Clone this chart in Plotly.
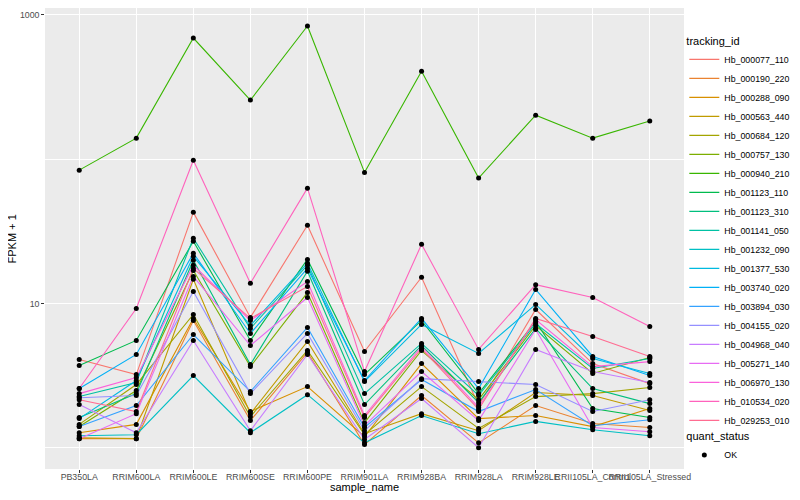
import plotly.graph_objects as go

samples = ["PB350LA", "RRIM600LA", "RRIM600LE", "RRIM600SE", "RRIM600PE", "RRIM901LA",
           "RRIM928BA", "RRIM928LA", "RRIM928LE", "RRII105LA_Control", "RRII105LA_Stressed"]

tracking_ids = ["Hb_000077_110", "Hb_000190_220", "Hb_000288_090", "Hb_000563_440", "Hb_000684_120",
                "Hb_000757_130", "Hb_000940_210", "Hb_001123_110", "Hb_001123_310", "Hb_001141_050",
                "Hb_001232_090", "Hb_001377_530", "Hb_003740_020", "Hb_003894_030", "Hb_004155_020",
                "Hb_004968_040", "Hb_005271_140", "Hb_006970_130", "Hb_010534_020", "Hb_029253_010"]

colors = ["#F8766D", "#EA8331", "#D89000", "#C09B00", "#A3A500", "#7CAE00", "#39B600", "#00BB4E",
          "#00BF7D", "#00C1A3", "#00BFC4", "#00BAE0", "#00B0F6", "#35A2FF", "#9590FF", "#C77CFF",
          "#E76BF3", "#FA62DB", "#FF62BC", "#FF6C91"]

# FPKM + 1 per sample (order of `samples`)
hb_000077_110 = [4.09, 3.21, 42.8, 8.00, 34.8, 4.64, 15.2, 1.96, 9.08, 3.83, 2.78]
hb_000190_220 = [1.155, 1.155, 7.62, 1.54, 4.57, 1.05, 2.30, 1.08, 1.96, 1.47, 1.38]
hb_000288_090 = [1.27, 1.45, 7.87, 1.78, 2.65, 1.19, 3.83, 1.59, 1.67, 1.40, 1.87]
hb_000563_440 = [1.17, 1.155, 14.7, 1.72, 5.45, 1.25, 1.72, 1.31, 2.41, 2.30, 1.81]
hb_000684_120 = [1.45, 2.74, 8.39, 1.64, 4.72, 1.23, 2.65, 1.36, 2.26, 2.37, 2.61]
hb_000757_130 = [1.40, 2.49, 16.9, 3.65, 11.9, 1.49, 4.72, 2.15, 7.03, 3.27, 4.22]
hb_000940_210 = [84.0, 140.0, 692.0, 257.0, 839.0, 81.0, 408.0, 74.0, 202.0, 140.0, 184.0]
hb_001123_110 = [3.71, 5.54, 27.0, 5.54, 20.2, 3.21, 7.62, 2.37, 7.50, 1.87, 1.62]
hb_001123_310 = [1.62, 2.37, 19.9, 3.77, 16.7, 1.99, 5.11, 2.05, 6.70, 2.57, 2.02]
hb_001141_050 = [2.26, 2.83, 28.3, 6.70, 18.4, 2.37, 5.28, 2.30, 7.26, 3.54, 4.15]
hb_001232_090 = [1.21, 1.23, 3.16, 1.27, 2.33, 1.08, 1.67, 1.25, 1.52, 1.33, 1.21]
hb_001377_530 = [1.59, 2.92, 21.2, 7.03, 19.0, 2.87, 7.15, 4.50, 9.84, 4.15, 3.27]
hb_003740_020 = [2.57, 4.43, 22.3, 6.19, 17.5, 2.92, 7.87, 2.57, 12.5, 4.29, 3.16]
hb_003894_030 = [1.40, 1.96, 6.09, 2.45, 6.81, 1.38, 2.97, 1.78, 2.53, 1.42, 1.56]
hb_004155_020 = [2.22, 2.30, 12.1, 2.37, 6.19, 1.31, 3.01, 2.87, 2.74, 1.78, 2.15]
hb_004968_040 = [1.99, 1.27, 5.54, 1.31, 4.43, 1.14, 2.19, 1.00, 4.80, 3.37, 2.83]
hb_005271_140 = [1.155, 1.72, 15.4, 5.11, 11.0, 1.42, 3.37, 1.54, 6.59, 1.38, 1.29]
hb_006970_130 = [2.37, 3.06, 18.4, 7.62, 14.2, 1.67, 5.03, 1.90, 7.74, 3.65, 3.95]
hb_010534_020 = [2.57, 9.23, 98.4, 13.8, 63.0, 3.37, 25.7, 4.80, 13.5, 11.0, 6.92]
hb_029253_010 = [2.15, 1.78, 17.5, 7.87, 13.1, 1.62, 4.87, 1.84, 7.87, 5.90, 4.29]

series_values = [hb_000077_110, hb_000190_220, hb_000288_090, hb_000563_440, hb_000684_120,
                 hb_000757_130, hb_000940_210, hb_001123_110, hb_001123_310, hb_001141_050,
                 hb_001232_090, hb_001377_530, hb_003740_020, hb_003894_030, hb_004155_020,
                 hb_004968_040, hb_005271_140, hb_006970_130, hb_010534_020, hb_029253_010]

quant_status = "OK"

FONT = "Liberation Sans, Arial, Helvetica, sans-serif"

fig = go.Figure()

for name, col, vals in zip(tracking_ids, colors, series_values):
    fig.add_trace(go.Scatter(
        x=samples, y=vals, mode="lines", name=name,
        line=dict(color=col, width=1.1), legend="legend",
        hoverinfo="skip"))

all_x = [s for _ in series_values for s in samples]
all_y = [v for vals in series_values for v in vals]
fig.add_trace(go.Scatter(
    x=all_x, y=all_y, mode="markers", name=quant_status,
    marker=dict(color="black", size=5, symbol="circle"),
    legend="legend2"))

fig.update_layout(
    width=792, height=492,
    margin=dict(l=37, r=116, t=0, b=31),
    paper_bgcolor="white",
    plot_bgcolor="#EBEBEB",
    font=dict(family=FONT, size=11, color="black"),
    showlegend=True,
    legend=dict(
        title=dict(text="tracking_id", font=dict(size=11, color="black")),
        font=dict(size=8.8, color="black"),
        x=1.0005, xanchor="left", y=0.951, yanchor="top",
        bgcolor="rgba(0,0,0,0)", tracegroupgap=0, itemwidth=30,
    ),
    legend2=dict(
        title=dict(text="quant_status", font=dict(size=11, color="black")),
        font=dict(size=8.8, color="black"),
        x=1.0005, xanchor="left", y=0.093, yanchor="top",
        bgcolor="rgba(0,0,0,0)",
    ),
    annotations=[
        dict(text="sample_name", xref="paper", yref="paper", x=0.5, y=-0.039,
             xanchor="center", yanchor="middle", showarrow=False,
             font=dict(size=11, color="black")),
        dict(text="FPKM + 1", xref="paper", yref="paper", x=-0.0517, y=0.5,
             xanchor="center", yanchor="middle", textangle=-90, showarrow=False,
             font=dict(size=11, color="black")),
    ],
)

fig.update_xaxes(
    type="category", range=[-0.6, 10.6], automargin=False,
    showgrid=True, gridcolor="white", gridwidth=1.1,
    ticks="outside", ticklen=2.75, tickcolor="#333333", tickwidth=1,
    tickangle=0, ticklabelstandoff=-3,
    tickfont=dict(size=8.8, color="#4D4D4D"),
    zeroline=False, showline=False,
)

fig.update_yaxes(
    type="log", range=[-0.148, 3.0485], automargin=False,
    tickvals=[10, 1000], ticktext=["10", "1000"],
    showgrid=True, gridcolor="white", gridwidth=1.1,
    minor=dict(tickvals=[1, 100], showgrid=True, gridcolor="white", gridwidth=0.55, ticklen=0),
    ticks="outside", ticklen=2.75, tickcolor="#333333", tickwidth=1,
    tickfont=dict(size=8.8, color="#4D4D4D"),
    zeroline=False, showline=False,
)

fig.write_html("out.html")
